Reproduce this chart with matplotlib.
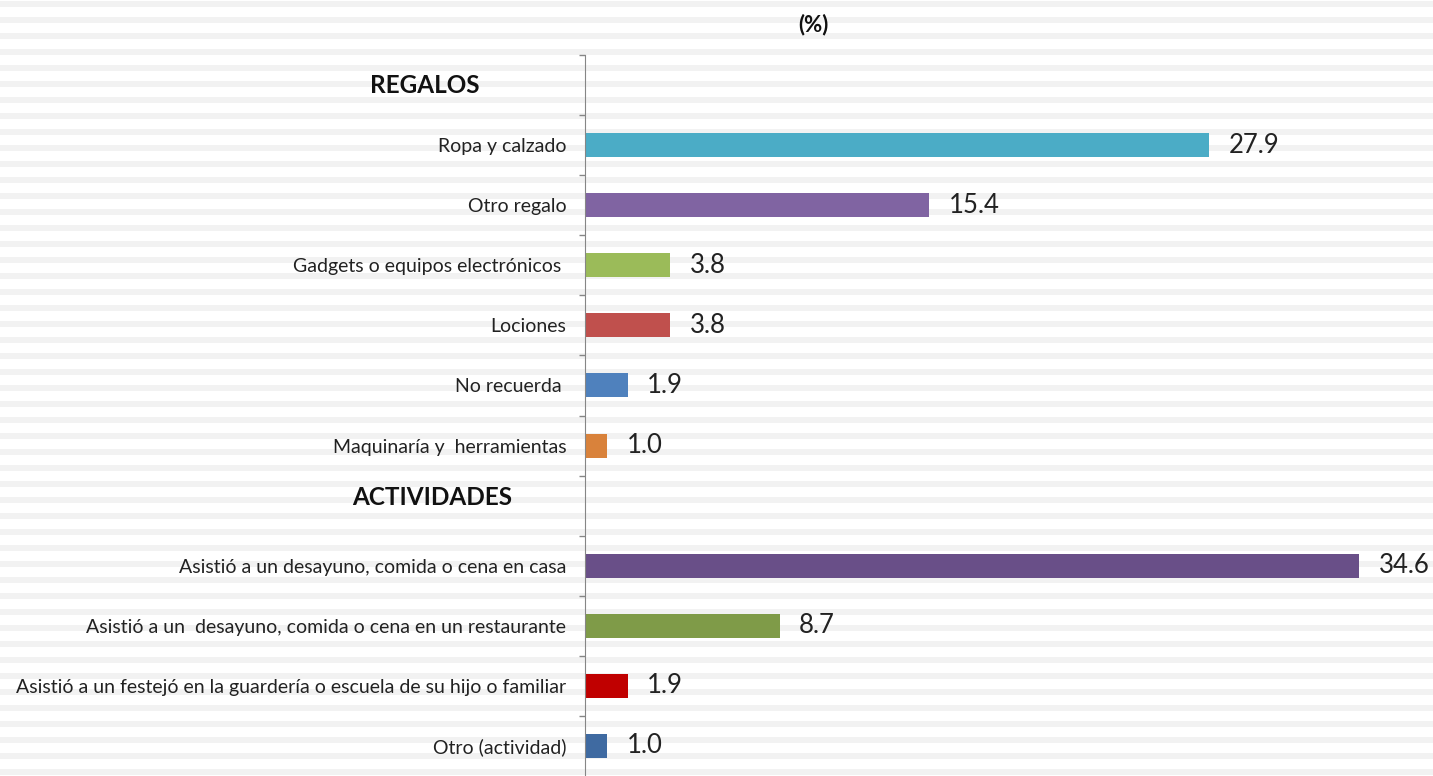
import matplotlib.pyplot as plt
from matplotlib.patches import Rectangle

plt.rcParams['font.family'] = ['Lato', 'DejaVu Sans']

# Data
groups = ["REGALOS", "ACTIVIDADES"]
regalos = ["Ropa y calzado", "Otro regalo", "Gadgets o equipos electrónicos ",
           "Lociones", "No recuerda ", "Maquinaría y  herramientas"]
regalos_vals = [27.9, 15.4, 3.8, 3.8, 1.9, 1.0]
regalos_colors = ["#4bacc6", "#8064a2", "#9bbb59", "#c0504d", "#4f81bd", "#d9823b"]
actividades = ["Asistió a un desayuno, comida o cena en casa",
               "Asistió a un  desayuno, comida o cena en un restaurante",
               "Asistió a un festejó en la guardería o escuela de su hijo o familiar",
               "Otro (actividad)"]
actividades_vals = [34.6, 8.7, 1.9, 1.0]
actividades_colors = ["#694f88", "#7f9b48", "#c00000", "#3f6aa1"]

W, H = 1433, 776
fig = plt.figure(figsize=(W / 100, H / 100), dpi=100)

# striped background
for k in range(H // 16 + 1):
    y0 = 16 * k + 1
    fig.add_artist(Rectangle((0, 1 - (y0 + 6) / H), 1, 6 / H, transform=fig.transFigure,
                             color="#f2f2f2", lw=0, zorder=-10))

ax = fig.add_axes([585 / W, 0, 1 - 585 / W, 1 - 55 / H])
ax.patch.set_alpha(0)

# build rows: header, items, header, items
labels, vals, colors, header_pos = [], [], [], []
for name, items, v, c in [(groups[0], regalos, regalos_vals, regalos_colors),
                          (groups[1], actividades, actividades_vals, actividades_colors)]:
    header_pos.append(len(labels))
    labels.append("")
    vals.append(0)
    colors.append("none")
    labels += items
    vals += v
    colors += c

pos = list(range(len(labels)))
ax.barh(pos, vals, height=0.4, color=colors)
for p, v, lab in zip(pos, vals, labels):
    if lab:
        ax.annotate(f"{v:.1f}", (v, p), xytext=(14, 0), textcoords="offset points",
                    va="center", ha="left", fontsize=18.5, color="#222222")

for hp, name, xc in zip(header_pos, groups, [425, 432]):
    off = 0 if hp == 0 else 6
    ax.annotate(name, (0, hp), xycoords=("axes fraction", "data"),
                xytext=(-(585 - xc) * 0.72, off), textcoords="offset points",
                ha="center", va="center", fontsize=17.5, fontweight="bold", color="#111111")

ax.set_ylim(len(labels) - 0.5, -0.5)
ax.set_xlim(0, (W - 585) / 22.37)
ax.set_yticks(pos)
ax.set_yticklabels(labels, fontsize=14, color="#222222")
ax.set_yticks([p - 0.5 for p in pos], minor=True)
ax.tick_params(axis="y", which="major", length=0, pad=13.5)
ax.tick_params(axis="y", which="minor", length=4, color="#868686", width=1)
ax.set_xticks([])
for s in ["top", "right", "bottom"]:
    ax.spines[s].set_visible(False)
ax.spines["left"].set_color("#868686")

fig.text(813 / W, 1 - 25 / H, "(%)", ha="center", va="center", fontsize=16, fontweight="bold",
         color="#111111")

fig.savefig("out.png", dpi=100)
